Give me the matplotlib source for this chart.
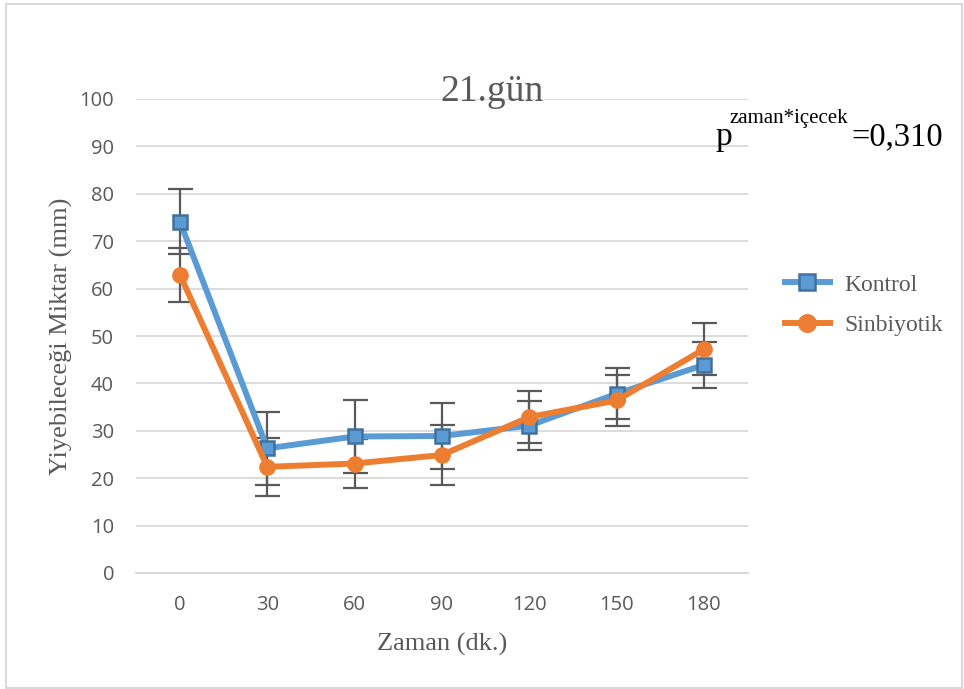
import matplotlib
matplotlib.use("Agg")
import matplotlib.pyplot as plt
from matplotlib.patches import Rectangle
import numpy as np

categories = ["0", "30", "60", "90", "120", "150", "180"]
kontrol = [74.1, 26.3, 28.8, 28.9, 31.1, 37.8, 43.9]
kontrol_err = [6.9, 7.7, 7.7, 7.0, 5.2, 5.4, 4.9]
sinbiyotik = [62.9, 22.4, 23.1, 24.9, 32.9, 36.4, 47.2]
sinbiyotik_err = [5.7, 6.1, 5.2, 6.3, 5.5, 5.4, 5.5]
yticks = [0, 10, 20, 30, 40, 50, 60, 70, 80, 90, 100]

W, H = 964, 689
fig = plt.figure(figsize=(W / 100, H / 100), dpi=100)
ax = fig.add_axes([136.3 / W, (H - 573) / H, 611.3 / W, (573 - 99) / H])

x = np.arange(len(categories))
gray = "#595959"
blue = "#5B9BD5"
blue_edge = "#41719C"
orange = "#ED7D31"

ax.errorbar(x, kontrol, yerr=kontrol_err, fmt="none", ecolor=gray, elinewidth=1.6,
            capsize=9, capthick=1.6, zorder=3)
ax.errorbar(x, sinbiyotik, yerr=sinbiyotik_err, fmt="none", ecolor=gray, elinewidth=1.6,
            capsize=9, capthick=1.6, zorder=3)
ax.plot(x, kontrol, color=blue, lw=4.3, marker="s", markersize=9.5,
        markerfacecolor=blue, markeredgecolor=blue_edge, markeredgewidth=1.8,
        label="Kontrol", zorder=4)
ax.plot(x, sinbiyotik, color=orange, lw=4.3, marker="o", markersize=11,
        markerfacecolor=orange, markeredgecolor=orange,
        label="Sinbiyotik", zorder=5)

ax.set_xlim(-0.5, len(categories) - 0.5)
ax.set_ylim(0, 100)
ax.set_yticks(yticks)
ax.set_xticks(x)
ax.set_xticklabels(categories)
ax.grid(axis="y", color="#d9d9d9", lw=1.3, zorder=0)
ax.set_axisbelow(True)
for s in ["top", "right", "left"]:
    ax.spines[s].set_visible(False)
ax.spines["bottom"].set_color("#d9d9d9")
ax.spines["bottom"].set_linewidth(1.3)
ax.tick_params(length=0, colors=gray, labelsize=14.5)
ax.tick_params(axis="y", pad=16)
ax.tick_params(axis="x", pad=16)
for lab in ax.get_xticklabels() + ax.get_yticklabels():
    lab.set_fontfamily("Open Sans")

serif = "Liberation Serif"
ax.set_xlabel("Zaman (dk.)", family=serif, fontsize=19, color=gray, labelpad=13)
ax.set_ylabel("Yiyebileceği Miktar (mm)", family=serif, fontsize=19, color=gray, labelpad=5)

fig.text(492 / W, 1 - 92 / H, "21.gün", family=serif, fontsize=27, color=gray,
         ha="center", va="center")

fig.text(715 / W, 1 - 145 / H, "p", family=serif, fontsize=24, color="black",
         ha="left", va="baseline")
fig.text(730 / W, 1 - 123 / H, "zaman*içecek", family=serif, fontsize=15, color="black",
         ha="left", va="baseline")
fig.text(851 / W, 1 - 145 / H, "=0,310", family=serif, fontsize=23.5, color="black",
         ha="left", va="baseline")

leg = fig.legend(loc="center left", bbox_to_anchor=(785 / W, 1 - 305 / H), frameon=False,
                 prop={"family": serif, "size": 17}, handlelength=1.9, handletextpad=0.6,
                 labelspacing=0.8, borderaxespad=0, borderpad=0, markerscale=1.15)
for t in leg.get_texts():
    t.set_color(gray)

fig.patches.append(Rectangle((6 / W, 1 / H), 956 / W, 684 / H, transform=fig.transFigure,
                             fill=False, edgecolor="#d9d9d9", lw=1.5))

fig.savefig("out.png", dpi=100)
